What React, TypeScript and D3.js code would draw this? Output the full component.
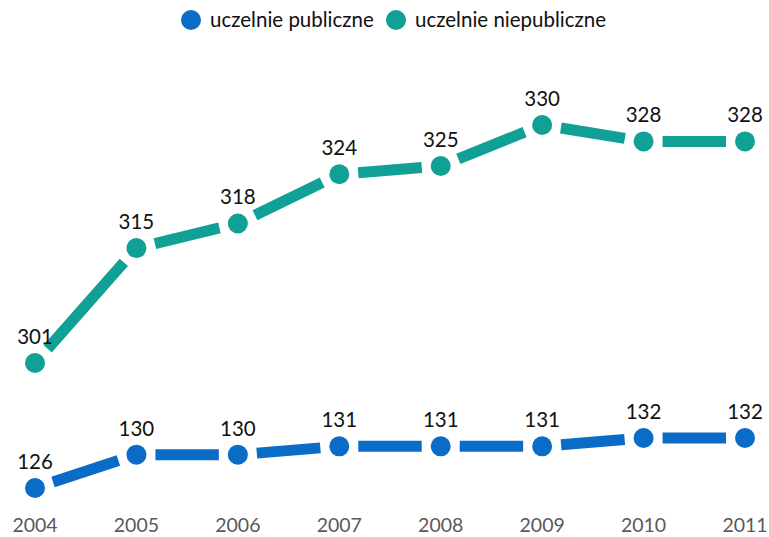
import React, { useEffect, useRef } from 'react';
import * as d3 from 'd3';

const years = ['2004', '2005', '2006', '2007', '2008', '2009', '2010', '2011'];
const publicValues = [126, 130, 130, 131, 131, 131, 132, 132];
const privateValues = [301, 315, 318, 324, 325, 330, 328, 328];
const seriesNames = ['uczelnie publiczne', 'uczelnie niepubliczne'];
const seriesColors = ['#0a6cc6', '#11a095'];

const W = 769;
const H = 537;
const FONT = 'Lato, "Open Sans", sans-serif';
const GAP = 19; // line segments stop short of the markers

const App: React.FC = () => {
  const svgRef = useRef<SVGSVGElement | null>(null);

  useEffect(() => {
    const svgEl = svgRef.current;
    if (!svgEl) return;
    const svg = d3.select(svgEl);
    svg.selectAll('*').remove();

    const x = d3.scalePoint<string>().domain(years).range([35, 745]);
    // broken value axis: each band keeps the same pixels per unit
    const yPublic = d3.scaleLinear().domain([126, 132]).range([488, 438]);
    const yPrivate = d3.scaleLinear().domain([301, 330]).range([363, 125]);

    const series = [
      { values: publicValues, y: yPublic, color: seriesColors[0] },
      { values: privateValues, y: yPrivate, color: seriesColors[1] },
    ];

    series.forEach((s) => {
      const pts: [number, number][] = s.values.map((v, i) => [x(years[i]) as number, s.y(v)]);
      const segs = d3.pairs(pts).map(([a, b]) => {
        const dx = b[0] - a[0];
        const dy = b[1] - a[1];
        const len = Math.hypot(dx, dy);
        const ux = dx / len;
        const uy = dy / len;
        return [a[0] + ux * GAP, a[1] + uy * GAP, b[0] - ux * GAP, b[1] - uy * GAP];
      });
      const g = svg.append('g');
      g.selectAll('line')
        .data(segs)
        .enter()
        .append('line')
        .attr('x1', (d) => d[0])
        .attr('y1', (d) => d[1])
        .attr('x2', (d) => d[2])
        .attr('y2', (d) => d[3])
        .attr('stroke', s.color)
        .attr('stroke-width', 11);
      g.selectAll('circle')
        .data(pts)
        .enter()
        .append('circle')
        .attr('cx', (d) => d[0])
        .attr('cy', (d) => d[1])
        .attr('r', 10)
        .attr('fill', s.color);
      g.selectAll('text')
        .data(s.values)
        .enter()
        .append('text')
        .attr('x', (_, i) => x(years[i]) as number)
        .attr('y', (v) => s.y(v) - 19)
        .attr('text-anchor', 'middle')
        .attr('font-family', FONT)
        .attr('font-size', 20.5)
        .attr('fill', '#111')
        .text((v) => v);
    });

    svg.append('g')
      .selectAll('text')
      .data(years)
      .enter()
      .append('text')
      .attr('x', (d) => x(d) as number)
      .attr('y', 532)
      .attr('text-anchor', 'middle')
      .attr('font-family', FONT)
      .attr('font-size', 19.5)
      .attr('fill', '#595959')
      .text((d) => d);

    const legend = svg.append('g');
    const legendX = [191, 396];
    seriesNames.forEach((name, i) => {
      legend.append('circle')
        .attr('cx', legendX[i])
        .attr('cy', 20)
        .attr('r', 10)
        .attr('fill', seriesColors[i]);
      legend.append('text')
        .attr('x', legendX[i] + 19)
        .attr('y', 27)
        .attr('font-family', FONT)
        .attr('font-size', 20.5)
        .attr('fill', '#111')
        .text(name);
    });
  }, []);

  return (
    <div style={{ position: 'fixed', left: 0, top: 0, width: W, height: H, background: 'white' }}>
      <svg ref={svgRef} width={W} height={H} style={{ display: 'block' }}></svg>
    </div>
  );
};

export default App;
